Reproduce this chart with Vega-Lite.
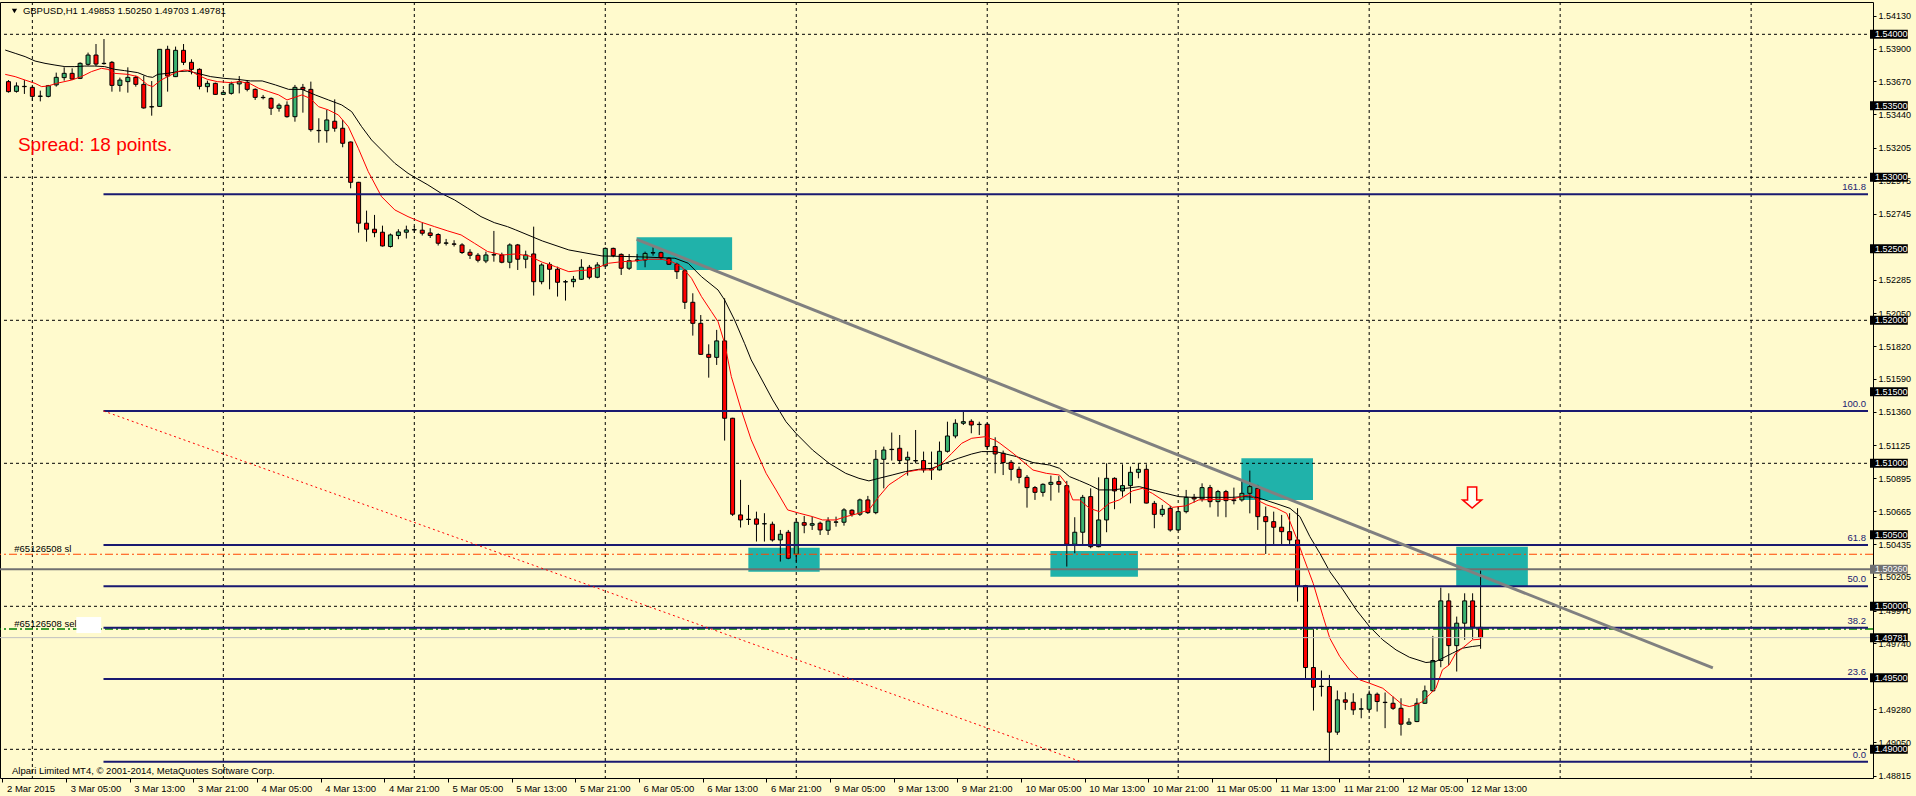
{
"$schema":"https://vega.github.io/schema/vega-lite/v6.json",
"width":1873,"height":776,
"autosize":{"type":"none"},
"padding":{"left":0,"top":2,"right":43,"bottom":18},
"background":"#FFFACD",
"config":{"view":{"stroke":"#000000","strokeWidth":1},"font":"Liberation Sans",
 "axis":{"title":null,"grid":false,"domain":false,"labelFont":"Liberation Sans","labelColor":"#000000","tickColor":"#000000","labelOverlap":false,"labelBound":false,"labelFlush":false,"zindex":0}},
"datasets":{
"candles":[
{"i":0,"o":1.53669,"h":1.5368,"l":1.53592,"c":1.53599},
{"i":1,"o":1.53601,"h":1.53664,"l":1.53592,"c":1.53639},
{"i":2,"o":1.53634,"h":1.5368,"l":1.53583,"c":1.53636},
{"i":3,"o":1.53629,"h":1.53646,"l":1.53534,"c":1.53566},
{"i":4,"o":1.53566,"h":1.53606,"l":1.53531,"c":1.53568},
{"i":5,"o":1.53566,"h":1.53646,"l":1.53559,"c":1.53641},
{"i":6,"o":1.53646,"h":1.53732,"l":1.53634,"c":1.53699},
{"i":7,"o":1.53697,"h":1.53769,"l":1.53676,"c":1.53727},
{"i":8,"o":1.53727,"h":1.53762,"l":1.5368,"c":1.53687},
{"i":9,"o":1.53692,"h":1.53804,"l":1.53687,"c":1.53797},
{"i":10,"o":1.5379,"h":1.53872,"l":1.53781,"c":1.53855},
{"i":11,"o":1.53855,"h":1.53932,"l":1.53778,"c":1.53792},
{"i":12,"o":1.53795,"h":1.53967,"l":1.53788,"c":1.53797},
{"i":13,"o":1.53804,"h":1.53813,"l":1.53599,"c":1.53643},
{"i":14,"o":1.53643,"h":1.53697,"l":1.53599,"c":1.5368},
{"i":15,"o":1.53669,"h":1.53769,"l":1.53592,"c":1.53699},
{"i":16,"o":1.53699,"h":1.53711,"l":1.53634,"c":1.5365},
{"i":17,"o":1.5365,"h":1.53711,"l":1.5348,"c":1.53485},
{"i":18,"o":1.53492,"h":1.53673,"l":1.53431,"c":1.53494},
{"i":19,"o":1.53496,"h":1.53897,"l":1.53494,"c":1.53895},
{"i":20,"o":1.53895,"h":1.5392,"l":1.53599,"c":1.53708},
{"i":21,"o":1.53704,"h":1.53914,"l":1.53701,"c":1.53888},
{"i":22,"o":1.53888,"h":1.53932,"l":1.53785,"c":1.53804},
{"i":23,"o":1.53804,"h":1.53825,"l":1.5372,"c":1.53755},
{"i":24,"o":1.53755,"h":1.53762,"l":1.53615,"c":1.53636},
{"i":25,"o":1.53634,"h":1.53676,"l":1.53594,"c":1.53657},
{"i":26,"o":1.53657,"h":1.53662,"l":1.53578,"c":1.5358},
{"i":27,"o":1.5358,"h":1.53611,"l":1.53576,"c":1.53594},
{"i":28,"o":1.53587,"h":1.53669,"l":1.53578,"c":1.53653},
{"i":29,"o":1.53653,"h":1.53708,"l":1.53587,"c":1.53669},
{"i":30,"o":1.53664,"h":1.5368,"l":1.53601,"c":1.53615},
{"i":31,"o":1.53615,"h":1.53622,"l":1.53541,"c":1.53559},
{"i":32,"o":1.53559,"h":1.53576,"l":1.53545,"c":1.53557},
{"i":33,"o":1.53552,"h":1.53559,"l":1.53436,"c":1.53483},
{"i":34,"o":1.53483,"h":1.53517,"l":1.53459,"c":1.53504},
{"i":35,"o":1.53504,"h":1.53531,"l":1.53417,"c":1.53424},
{"i":36,"o":1.53424,"h":1.53646,"l":1.53389,"c":1.53629},
{"i":37,"o":1.53629,"h":1.53653,"l":1.53452,"c":1.53615},
{"i":38,"o":1.53615,"h":1.53669,"l":1.53319,"c":1.53333},
{"i":39,"o":1.53328,"h":1.53413,"l":1.53242,"c":1.53326},
{"i":40,"o":1.53326,"h":1.53471,"l":1.53242,"c":1.53401},
{"i":41,"o":1.53392,"h":1.53545,"l":1.53319,"c":1.53343},
{"i":42,"o":1.53343,"h":1.53401,"l":1.5321,"c":1.53238},
{"i":43,"o":1.53247,"h":1.5325,"l":1.52923,"c":1.52965},
{"i":44,"o":1.52965,"h":1.52968,"l":1.52613,"c":1.52679},
{"i":45,"o":1.52679,"h":1.52767,"l":1.5255,"c":1.52637},
{"i":46,"o":1.52637,"h":1.52737,"l":1.52581,"c":1.52613},
{"i":47,"o":1.52616,"h":1.52662,"l":1.52516,"c":1.5252},
{"i":48,"o":1.52516,"h":1.52607,"l":1.52509,"c":1.52597},
{"i":49,"o":1.52593,"h":1.52637,"l":1.52567,"c":1.52618},
{"i":50,"o":1.52616,"h":1.52662,"l":1.52572,"c":1.52632},
{"i":51,"o":1.52632,"h":1.5266,"l":1.52611,"c":1.52634},
{"i":52,"o":1.5263,"h":1.52683,"l":1.52593,"c":1.52609},
{"i":53,"o":1.52611,"h":1.52644,"l":1.52576,"c":1.52593},
{"i":54,"o":1.526,"h":1.52609,"l":1.52523,"c":1.52539},
{"i":55,"o":1.52539,"h":1.52569,"l":1.52523,"c":1.52541},
{"i":56,"o":1.52534,"h":1.5256,"l":1.52516,"c":1.52532},
{"i":57,"o":1.52527,"h":1.52539,"l":1.52464,"c":1.52474},
{"i":58,"o":1.52476,"h":1.52497,"l":1.52429,"c":1.52455},
{"i":59,"o":1.52455,"h":1.5247,"l":1.52405,"c":1.5242},
{"i":60,"o":1.52415,"h":1.5248,"l":1.524,"c":1.52457},
{"i":61,"o":1.52457,"h":1.52625,"l":1.5241,"c":1.52459},
{"i":62,"o":1.52457,"h":1.52473,"l":1.52399,"c":1.52406},
{"i":63,"o":1.52406,"h":1.52538,"l":1.52364,"c":1.52527},
{"i":64,"o":1.52527,"h":1.52534,"l":1.52352,"c":1.52427},
{"i":65,"o":1.52427,"h":1.52487,"l":1.52364,"c":1.52457},
{"i":66,"o":1.52464,"h":1.52655,"l":1.52173,"c":1.5227},
{"i":67,"o":1.5227,"h":1.52399,"l":1.52252,"c":1.52387},
{"i":68,"o":1.52391,"h":1.52406,"l":1.52217,"c":1.52357},
{"i":69,"o":1.52357,"h":1.52375,"l":1.52166,"c":1.52266},
{"i":70,"o":1.52268,"h":1.52282,"l":1.52138,"c":1.5227},
{"i":71,"o":1.5227,"h":1.5231,"l":1.52231,"c":1.52287},
{"i":72,"o":1.52287,"h":1.52427,"l":1.52282,"c":1.52371},
{"i":73,"o":1.52371,"h":1.52387,"l":1.52287,"c":1.52301},
{"i":74,"o":1.52301,"h":1.52406,"l":1.52294,"c":1.52387},
{"i":75,"o":1.5238,"h":1.5251,"l":1.52375,"c":1.52503},
{"i":76,"o":1.52503,"h":1.52508,"l":1.52441,"c":1.52452},
{"i":77,"o":1.52461,"h":1.52468,"l":1.52317,"c":1.52364},
{"i":78,"o":1.52364,"h":1.52464,"l":1.52352,"c":1.52417},
{"i":79,"o":1.5242,"h":1.52464,"l":1.52406,"c":1.52422},
{"i":80,"o":1.52422,"h":1.5248,"l":1.52371,"c":1.52468},
{"i":81,"o":1.52471,"h":1.5251,"l":1.52452,"c":1.52473},
{"i":82,"o":1.52473,"h":1.5248,"l":1.52422,"c":1.52438},
{"i":83,"o":1.52434,"h":1.52441,"l":1.52387,"c":1.52392},
{"i":84,"o":1.52392,"h":1.52403,"l":1.52289,"c":1.5234},
{"i":85,"o":1.52347,"h":1.52359,"l":1.52079,"c":1.52126},
{"i":86,"o":1.52126,"h":1.52189,"l":1.51893,"c":1.51979},
{"i":87,"o":1.51979,"h":1.52037,"l":1.51758,"c":1.51762},
{"i":88,"o":1.51762,"h":1.51832,"l":1.51599,"c":1.51741},
{"i":89,"o":1.51741,"h":1.51933,"l":1.51688,"c":1.51856},
{"i":90,"o":1.51856,"h":1.52154,"l":1.51159,"c":1.51315},
{"i":91,"o":1.51315,"h":1.51318,"l":1.50632,"c":1.50644},
{"i":92,"o":1.50639,"h":1.50884,"l":1.50551,"c":1.50604},
{"i":93,"o":1.50607,"h":1.50709,"l":1.50569,"c":1.50609},
{"i":94,"o":1.50611,"h":1.50662,"l":1.50453,"c":1.50574},
{"i":95,"o":1.50576,"h":1.50651,"l":1.50453,"c":1.50578},
{"i":96,"o":1.50574,"h":1.50592,"l":1.50453,"c":1.50464},
{"i":97,"o":1.50464,"h":1.50534,"l":1.50313,"c":1.50504},
{"i":98,"o":1.50518,"h":1.50534,"l":1.50329,"c":1.50336},
{"i":99,"o":1.50364,"h":1.50616,"l":1.50313,"c":1.50588},
{"i":100,"o":1.50585,"h":1.50632,"l":1.50511,"c":1.50567},
{"i":101,"o":1.50567,"h":1.50627,"l":1.50534,"c":1.50578},
{"i":102,"o":1.50581,"h":1.50592,"l":1.50499,"c":1.50534},
{"i":103,"o":1.50532,"h":1.50623,"l":1.50499,"c":1.50597},
{"i":104,"o":1.50588,"h":1.50627,"l":1.50557,"c":1.5059},
{"i":105,"o":1.50588,"h":1.50686,"l":1.50564,"c":1.50674},
{"i":106,"o":1.50672,"h":1.50679,"l":1.50627,"c":1.50644},
{"i":107,"o":1.50644,"h":1.50753,"l":1.50632,"c":1.50744},
{"i":108,"o":1.50744,"h":1.50772,"l":1.50646,"c":1.50655},
{"i":109,"o":1.50655,"h":1.51093,"l":1.50644,"c":1.51028},
{"i":110,"o":1.51028,"h":1.51117,"l":1.50825,"c":1.51093},
{"i":111,"o":1.51096,"h":1.51215,"l":1.51019,"c":1.51098},
{"i":112,"o":1.51105,"h":1.51198,"l":1.50995,"c":1.51019},
{"i":113,"o":1.51023,"h":1.51082,"l":1.50914,"c":1.51042},
{"i":114,"o":1.51017,"h":1.51233,"l":1.51,"c":1.51019},
{"i":115,"o":1.51019,"h":1.51082,"l":1.50935,"c":1.50954},
{"i":116,"o":1.50954,"h":1.51082,"l":1.50884,"c":1.50961},
{"i":117,"o":1.50954,"h":1.51152,"l":1.50949,"c":1.51084},
{"i":118,"o":1.51084,"h":1.51291,"l":1.51075,"c":1.51191},
{"i":119,"o":1.51191,"h":1.51308,"l":1.51175,"c":1.5128},
{"i":120,"o":1.5128,"h":1.51366,"l":1.51268,"c":1.51291},
{"i":121,"o":1.51294,"h":1.51308,"l":1.5121,"c":1.51268},
{"i":122,"o":1.51271,"h":1.51291,"l":1.51198,"c":1.51273},
{"i":123,"o":1.51273,"h":1.51284,"l":1.51093,"c":1.51117},
{"i":124,"o":1.51117,"h":1.51182,"l":1.5093,"c":1.51065},
{"i":125,"o":1.5107,"h":1.51089,"l":1.50918,"c":1.51005},
{"i":126,"o":1.51007,"h":1.51023,"l":1.50879,"c":1.50958},
{"i":127,"o":1.50958,"h":1.50977,"l":1.5086,"c":1.50902},
{"i":128,"o":1.50902,"h":1.50918,"l":1.5069,"c":1.5083},
{"i":129,"o":1.5083,"h":1.50841,"l":1.50744,"c":1.50797},
{"i":130,"o":1.50797,"h":1.5086,"l":1.50767,"c":1.50853},
{"i":131,"o":1.50853,"h":1.50914,"l":1.50739,"c":1.50867},
{"i":132,"o":1.50872,"h":1.50911,"l":1.50795,"c":1.50853},
{"i":133,"o":1.50844,"h":1.50877,"l":1.50278,"c":1.50434},
{"i":134,"o":1.50434,"h":1.50623,"l":1.50371,"c":1.50518},
{"i":135,"o":1.50518,"h":1.50779,"l":1.50424,"c":1.50762},
{"i":136,"o":1.50767,"h":1.50825,"l":1.50406,"c":1.50417},
{"i":137,"o":1.50417,"h":1.50902,"l":1.50413,"c":1.50604},
{"i":138,"o":1.50604,"h":1.51,"l":1.50518,"c":1.50895},
{"i":139,"o":1.50895,"h":1.50902,"l":1.50679,"c":1.50807},
{"i":140,"o":1.50807,"h":1.50993,"l":1.50767,"c":1.50844},
{"i":141,"o":1.50844,"h":1.50977,"l":1.5072,"c":1.50937},
{"i":142,"o":1.50937,"h":1.51,"l":1.50895,"c":1.50958},
{"i":143,"o":1.50958,"h":1.50993,"l":1.5072,"c":1.50722},
{"i":144,"o":1.5072,"h":1.50737,"l":1.50546,"c":1.50643},
{"i":145,"o":1.50643,"h":1.50709,"l":1.50627,"c":1.50678},
{"i":146,"o":1.50685,"h":1.50702,"l":1.50522,"c":1.50534},
{"i":147,"o":1.50534,"h":1.50697,"l":1.50527,"c":1.50662},
{"i":148,"o":1.50662,"h":1.50814,"l":1.5065,"c":1.50762},
{"i":149,"o":1.50762,"h":1.50786,"l":1.50725,"c":1.50751},
{"i":150,"o":1.50751,"h":1.5086,"l":1.50732,"c":1.5083},
{"i":151,"o":1.5083,"h":1.50849,"l":1.50692,"c":1.50732},
{"i":152,"o":1.50732,"h":1.50814,"l":1.50627,"c":1.50802},
{"i":153,"o":1.50802,"h":1.50814,"l":1.50623,"c":1.50739},
{"i":154,"o":1.50744,"h":1.5083,"l":1.50713,"c":1.50739},
{"i":155,"o":1.50744,"h":1.50884,"l":1.50732,"c":1.5079},
{"i":156,"o":1.5079,"h":1.50949,"l":1.5065,"c":1.50837},
{"i":157,"o":1.50825,"h":1.50849,"l":1.50534,"c":1.50627},
{"i":158,"o":1.50627,"h":1.50697,"l":1.50366,"c":1.50592},
{"i":159,"o":1.50592,"h":1.50662,"l":1.50429,"c":1.50553},
{"i":160,"o":1.50553,"h":1.50639,"l":1.50429,"c":1.50522},
{"i":161,"o":1.50522,"h":1.50651,"l":1.50422,"c":1.50464},
{"i":162,"o":1.50464,"h":1.50686,"l":1.50033,"c":1.50143},
{"i":163,"o":1.50145,"h":1.5015,"l":1.49497,"c":1.49572},
{"i":164,"o":1.49572,"h":1.4984,"l":1.49271,"c":1.49434},
{"i":165,"o":1.49439,"h":1.49551,"l":1.49369,"c":1.49441},
{"i":166,"o":1.49439,"h":1.4952,"l":1.48913,"c":1.4912},
{"i":167,"o":1.4912,"h":1.49411,"l":1.49101,"c":1.49346},
{"i":168,"o":1.49346,"h":1.49399,"l":1.49276,"c":1.49329},
{"i":169,"o":1.49329,"h":1.49392,"l":1.49241,"c":1.49276},
{"i":170,"o":1.49281,"h":1.49357,"l":1.49217,"c":1.49283},
{"i":171,"o":1.4928,"h":1.49411,"l":1.49264,"c":1.49385},
{"i":172,"o":1.49385,"h":1.49397,"l":1.49264,"c":1.49334},
{"i":173,"o":1.49329,"h":1.49397,"l":1.49148,"c":1.49327},
{"i":174,"o":1.49322,"h":1.49369,"l":1.49276,"c":1.49287},
{"i":175,"o":1.49287,"h":1.49357,"l":1.49096,"c":1.49176},
{"i":176,"o":1.49176,"h":1.49218,"l":1.49171,"c":1.4919},
{"i":177,"o":1.49194,"h":1.49357,"l":1.4919,"c":1.49322},
{"i":178,"o":1.49322,"h":1.49446,"l":1.49318,"c":1.49409},
{"i":179,"o":1.49409,"h":1.49793,"l":1.49404,"c":1.49621},
{"i":180,"o":1.49621,"h":1.50131,"l":1.49574,"c":1.50038},
{"i":181,"o":1.50038,"h":1.50091,"l":1.4959,"c":1.49725},
{"i":182,"o":1.49725,"h":1.49928,"l":1.49544,"c":1.49882},
{"i":183,"o":1.49882,"h":1.50091,"l":1.49765,"c":1.50038},
{"i":184,"o":1.50038,"h":1.50091,"l":1.4977,"c":1.49854},
{"i":185,"o":1.49853,"h":1.5025,"l":1.49703,"c":1.49781}
],
"maFast":[
{"i":-0.41,"p":1.5372},{"i":0.84,"p":1.53704},{"i":2.09,"p":1.5368},{"i":3.34,"p":1.53657},{"i":4.17,"p":1.53634},{"i":5.0,"p":1.53639},{"i":6.05,"p":1.53657},{"i":7.92,"p":1.5368},{"i":9.17,"p":1.53704},{"i":10.42,"p":1.53739},{"i":11.67,"p":1.53762},{"i":12.5,"p":1.53755},{"i":13.34,"p":1.53727},{"i":15.0,"p":1.5372},{"i":16.25,"p":1.53704},{"i":17.5,"p":1.53646},{"i":18.13,"p":1.53634},{"i":19.17,"p":1.5368},{"i":20.0,"p":1.53704},{"i":21.25,"p":1.53739},{"i":22.09,"p":1.5375},{"i":22.92,"p":1.53746},{"i":23.75,"p":1.53715},{"i":25.0,"p":1.53685},{"i":26.25,"p":1.53669},{"i":27.92,"p":1.53662},{"i":29.17,"p":1.53669},{"i":30.42,"p":1.53653},
{"i":31.46,"p":1.53622},{"i":32.71,"p":1.53599},{"i":33.96,"p":1.53576},{"i":35.0,"p":1.53541},{"i":36.88,"p":1.53576},{"i":37.92,"p":1.53552},{"i":38.96,"p":1.53494},{"i":40.21,"p":1.53471},{"i":41.46,"p":1.53436},{"i":42.71,"p":1.53354},{"i":43.96,"p":1.53203},{"i":45.21,"p":1.5304},{"i":46.88,"p":1.52865},{"i":48.55,"p":1.52772},{"i":50.21,"p":1.52725},{"i":51.88,"p":1.52686},{"i":53.55,"p":1.52655},{"i":55.21,"p":1.52625},{"i":56.88,"p":1.52597},{"i":58.55,"p":1.52539},{"i":60.21,"p":1.52481},{"i":62.09,"p":1.52457},
{"i":63.75,"p":1.52464},{"i":65.42,"p":1.5245},{"i":67.09,"p":1.52406},{"i":68.75,"p":1.52375},{"i":70.42,"p":1.5234},{"i":71.67,"p":1.52347},{"i":72.92,"p":1.52352},{"i":74.17,"p":1.52371},{"i":75.42,"p":1.52399},{"i":77.09,"p":1.5241},{"i":78.75,"p":1.52415},{"i":80.42,"p":1.52427},{"i":82.09,"p":1.52427},{"i":83.34,"p":1.5241},{"i":84.59,"p":1.52375},{"i":85.84,"p":1.52294},{"i":87.09,"p":1.52166},{"i":88.34,"p":1.52061},{"i":89.17,"p":1.51991},{"i":90.0,"p":1.51839},{"i":90.84,"p":1.51606},{"i":92.09,"p":1.51373},{"i":93.34,"p":1.51164},
{"i":95.21,"p":1.5093},{"i":96.46,"p":1.50814},{"i":97.92,"p":1.50674},{"i":99.38,"p":1.50651},{"i":101.05,"p":1.50627},{"i":102.3,"p":1.50604},{"i":103.96,"p":1.50604},{"i":105.21,"p":1.50627},{"i":106.46,"p":1.50644},{"i":108.13,"p":1.50674},{"i":109.38,"p":1.50767},{"i":110.63,"p":1.50849},{"i":111.88,"p":1.50895},{"i":113.13,"p":1.50942},{"i":114.38,"p":1.50954},{"i":116.05,"p":1.50954},{"i":117.3,"p":1.51},{"i":118.55,"p":1.5107},{"i":119.8,"p":1.5114},{"i":121.05,"p":1.51175},{"i":122.71,"p":1.51186},{"i":123.96,"p":1.51163},
{"i":124.59,"p":1.5114},{"i":126.25,"p":1.5107},{"i":127.5,"p":1.51012},{"i":128.75,"p":1.50953},{"i":130.42,"p":1.5093},{"i":132.09,"p":1.50918},{"i":132.92,"p":1.5086},{"i":133.75,"p":1.50744},{"i":134.59,"p":1.50744},{"i":135.84,"p":1.50686},{"i":137.09,"p":1.50662},{"i":138.34,"p":1.5072},{"i":139.59,"p":1.50744},{"i":141.25,"p":1.50807},{"i":142.5,"p":1.50825},{"i":143.75,"p":1.5079},{"i":145.0,"p":1.50744},{"i":146.25,"p":1.50692},{"i":147.92,"p":1.50702},{"i":149.59,"p":1.50744},{"i":151.67,"p":1.50748},{"i":153.75,"p":1.50748},
{"i":155.21,"p":1.50772},{"i":156.05,"p":1.50779},{"i":156.88,"p":1.50744},{"i":158.13,"p":1.50709},{"i":159.38,"p":1.50685},{"i":160.63,"p":1.5065},{"i":161.88,"p":1.50476},{"i":162.71,"p":1.50348},{"i":163.96,"p":1.50161},{"i":165.21,"p":1.49928},{"i":166.05,"p":1.49777},{"i":167.3,"p":1.49649},{"i":168.55,"p":1.49556},{"i":169.8,"p":1.49486},{"i":171.05,"p":1.49462},{"i":172.71,"p":1.49427},{"i":173.96,"p":1.49369},{"i":175.21,"p":1.49311},{"i":176.05,"p":1.49299},{"i":176.88,"p":1.49311},{"i":177.71,"p":1.49334},{"i":178.55,"p":1.49381},{"i":179.38,"p":1.49427},{"i":180.21,"p":1.49556},{"i":181.05,"p":1.4959},{"i":181.88,"p":1.49672},{"i":182.71,"p":1.49707},{"i":183.96,"p":1.49765},{"i":185.0,"p":1.4977}
],
"maSlow":[
{"i":-0.41,"p":1.5389},{"i":0.84,"p":1.53867},{"i":2.09,"p":1.53844},{"i":3.34,"p":1.53813},{"i":4.59,"p":1.53797},{"i":5.84,"p":1.53785},{"i":7.09,"p":1.53774},{"i":8.34,"p":1.53774},{"i":9.59,"p":1.53778},{"i":10.84,"p":1.53778},{"i":12.09,"p":1.53774},{"i":13.34,"p":1.53755},{"i":14.59,"p":1.53746},{"i":16.25,"p":1.53732},{"i":17.5,"p":1.53704},{"i":18.13,"p":1.53699},{"i":18.75,"p":1.5372},{"i":20.0,"p":1.53727},{"i":21.25,"p":1.53739},{"i":22.5,"p":1.53743},{"i":23.75,"p":1.53727},{"i":25.42,"p":1.53704},{"i":27.09,"p":1.53692},{"i":28.75,"p":1.53685},{"i":30.42,"p":1.53674},
{"i":31.88,"p":1.53674},{"i":33.55,"p":1.53646},{"i":35.21,"p":1.53615},{"i":36.88,"p":1.53615},{"i":38.55,"p":1.53576},{"i":40.21,"p":1.53541},{"i":41.88,"p":1.53506},{"i":43.13,"p":1.53459},{"i":44.38,"p":1.53354},{"i":45.63,"p":1.53261},{"i":46.88,"p":1.53191},{"i":48.55,"p":1.53098},{"i":50.21,"p":1.53028},{"i":51.05,"p":1.53},{"i":52.71,"p":1.52947},{"i":54.38,"p":1.52888},{"i":56.05,"p":1.52842},{"i":57.71,"p":1.52784},{"i":59.38,"p":1.52725},{"i":61.05,"p":1.52683},{"i":62.71,"p":1.52655},
{"i":63.75,"p":1.52632},{"i":67.09,"p":1.52555},{"i":70.42,"p":1.52492},{"i":74.59,"p":1.5245},{"i":78.75,"p":1.52445},{"i":83.75,"p":1.52434},{"i":85.42,"p":1.52399},{"i":87.09,"p":1.52305},{"i":89.17,"p":1.52212},{"i":90.0,"p":1.52142},{"i":91.25,"p":1.52002},{"i":92.5,"p":1.51839},{"i":93.34,"p":1.51723},
{"i":96.05,"p":1.51443},{"i":97.71,"p":1.51291},{"i":98.96,"p":1.5121},{"i":101.05,"p":1.51093},{"i":103.13,"p":1.51},{"i":105.21,"p":1.5093},{"i":106.88,"p":1.50895},{"i":108.13,"p":1.50877},{"i":109.38,"p":1.50895},{"i":111.05,"p":1.50918},{"i":112.71,"p":1.50942},{"i":114.38,"p":1.50958},{"i":116.05,"p":1.50965},{"i":117.71,"p":1.51},{"i":119.38,"p":1.51035},{"i":121.05,"p":1.51065},{"i":122.3,"p":1.51082},{"i":123.96,"p":1.51082},
{"i":124.59,"p":1.51075},{"i":126.67,"p":1.51047},{"i":128.75,"p":1.51005},{"i":130.84,"p":1.50988},{"i":132.09,"p":1.50965},{"i":133.34,"p":1.50907},{"i":134.59,"p":1.50879},{"i":135.84,"p":1.50849},{"i":137.09,"p":1.50814},{"i":138.75,"p":1.50814},{"i":140.42,"p":1.50825},{"i":142.09,"p":1.50837},{"i":143.75,"p":1.50814},{"i":145.42,"p":1.5079},{"i":147.09,"p":1.50767},{"i":148.75,"p":1.50762},{"i":150.42,"p":1.50762},{"i":152.09,"p":1.50762},{"i":153.75,"p":1.50762},
{"i":155.21,"p":1.50767},{"i":156.88,"p":1.50762},{"i":158.55,"p":1.50732},{"i":159.8,"p":1.50709},{"i":161.05,"p":1.50685},{"i":162.3,"p":1.50627},{"i":163.55,"p":1.50487},{"i":164.8,"p":1.50371},{"i":166.05,"p":1.50243},{"i":167.71,"p":1.50115},{"i":169.38,"p":1.49975},{"i":171.05,"p":1.49858},{"i":172.71,"p":1.49765},{"i":174.38,"p":1.49695},{"i":176.05,"p":1.49644},{"i":178.13,"p":1.49607},{"i":179.38,"p":1.49614},{"i":180.21,"p":1.49637},{"i":181.46,"p":1.49672},{"i":182.71,"p":1.49707},{"i":183.96,"p":1.49719},{"i":185.0,"p":1.49726}
],
"zones":[
{"i":78.94,"i2":90.94,"p":1.5258,"p2":1.52352},
{"i":154.94,"i2":163.94,"p":1.51035,"p2":1.50743},
{"i":92.98,"i2":101.94,"p":1.5041,"p2":1.50242},
{"i":130.94,"i2":141.94,"p":1.50387,"p2":1.50207},
{"i":181.94,"i2":190.94,"p":1.50417,"p2":1.50137}
],
"fib":[
{"level":"0.0","p":1.48913,"i":11.94,"i2":233.6875},{"level":"23.6","p":1.49492,"i":11.94,"i2":233.6875},{"level":"38.2","p":1.4985,"i":11.94,"i2":233.6875},{"level":"50.0","p":1.5014,"i":11.94,"i2":233.6875},{"level":"61.8","p":1.50429,"i":11.94,"i2":233.6875},{"level":"100.0","p":1.51366,"i":11.94,"i2":233.6875},{"level":"161.8","p":1.52882,"i":11.94,"i2":233.6875}
],
"boxes":[
{"p":1.54,"i":233.94,"i2":238.69},{"p":1.535,"i":233.94,"i2":238.69},{"p":1.53,"i":233.94,"i2":238.69},{"p":1.525,"i":233.94,"i2":238.69},{"p":1.52,"i":233.94,"i2":238.69},{"p":1.515,"i":233.94,"i2":238.69},{"p":1.51,"i":233.94,"i2":238.69},{"p":1.505,"i":233.94,"i2":238.69},{"p":1.5,"i":233.94,"i2":238.69},{"p":1.49781,"i":233.94,"i2":238.69},{"p":1.495,"i":233.94,"i2":238.69},{"p":1.49,"i":233.94,"i2":238.69}
],
"greybox":[{"p":1.5026,"i":233.94,"i2":238.69}]
},
"encoding":{
 "x":{"field":"i","type":"quantitative","scale":{"domain":[-0.4375,233.6875],"nice":false,"zero":false},
  "axis":{"orient":"bottom","ticks":true,"tickSize":4,"tickWidth":1,"tickOffset":-6,"labelOffset":4,"labelAlign":"left","labelBaseline":"top","labelPadding":1,"labelFontSize":9.5,
  "values":[0,8,16,24,32,40,48,56,64,72,80,88,96,104,112,120,128,136,144,152,160,168,176,184],
  "labelExpr":"['2 Mar 2015','3 Mar 05:00','3 Mar 13:00','3 Mar 21:00','4 Mar 05:00','4 Mar 13:00','4 Mar 21:00','5 Mar 05:00','5 Mar 13:00','5 Mar 21:00','6 Mar 05:00','6 Mar 13:00','6 Mar 21:00','9 Mar 05:00','9 Mar 13:00','9 Mar 21:00','10 Mar 05:00','10 Mar 13:00','10 Mar 21:00','11 Mar 05:00','11 Mar 13:00','11 Mar 21:00','12 Mar 05:00','12 Mar 13:00'][round(datum.value/8)]"}},
 "y":{"field":"p","type":"quantitative","scale":{"domain":[1.487994,1.542259],"nice":false,"zero":false},
  "axis":{"orient":"right","ticks":true,"tickSize":3,"labelPadding":2,"labelFontSize":9,"format":".5f",
  "values":[1.5413,1.539,1.5367,1.5344,1.53205,1.52975,1.52745,1.52285,1.5205,1.5182,1.5159,1.5136,1.51125,1.50895,1.50665,1.50435,1.50205,1.4997,1.4974,1.4928,1.4905,1.48815]}}
},
"layer":[
{"data":{"name":"zones"},"mark":{"type":"rect","color":"#20B2AA","opacity":1},
 "encoding":{"x2":{"field":"i2"},"y2":{"field":"p2"}}},
{"data":{"values":[{"i":3},{"i":27},{"i":51},{"i":75},{"i":99},{"i":123},{"i":147},{"i":171},{"i":195},{"i":219}]},
 "mark":{"type":"rule","color":"#000000","strokeWidth":1,"strokeDash":[3,3]},
 "encoding":{"y":null}},
{"data":{"values":[{"p":1.54},{"p":1.53},{"p":1.52},{"p":1.51},{"p":1.5},{"p":1.49}]},
 "mark":{"type":"rule","color":"#000000","strokeWidth":1,"strokeDash":[3,3]},
 "encoding":{"x":null}},
{"data":{"name":"candles"},"mark":{"type":"rule","color":"#000000","strokeWidth":1},
 "encoding":{"y":{"field":"l","type":"quantitative"},"y2":{"field":"h"}}},
{"data":{"name":"candles"},"mark":{"type":"bar","orient":"vertical","size":4,"stroke":"#000000","strokeWidth":1},
 "encoding":{"y":{"field":"o","type":"quantitative"},"y2":{"field":"c"},
 "fill":{"condition":{"test":"datum.c >= datum.o","value":"#3CB371"},"value":"#FF0000"}}},
{"data":{"name":"maSlow"},"mark":{"type":"line","color":"#000000","strokeWidth":1}},
{"data":{"name":"maFast"},"mark":{"type":"line","color":"#FF0000","strokeWidth":1}},
{"data":{"values":[{"p":1.50364}]},"mark":{"type":"rule","color":"#FF4500","strokeWidth":1,"strokeDash":[8,3,2,3]},"encoding":{"x":null}},
{"data":{"values":[{"p":1.5026}]},"mark":{"type":"rule","color":"#707070","strokeWidth":2},"encoding":{"x":null}},
{"data":{"values":[{"p":1.49841}]},"mark":{"type":"rule","color":"#008000","strokeWidth":1.5,"strokeDash":[8,3,2,3]},"encoding":{"x":null}},
{"data":{"values":[{"p":1.49781}]},"mark":{"type":"rule","color":"#C0C0C0","strokeWidth":1},"encoding":{"x":null}},
{"data":{"name":"fib"},"mark":{"type":"rule","color":"#191970","strokeWidth":2},
 "encoding":{"x2":{"field":"i2"}}},
{"data":{"name":"fib"},"mark":{"type":"text","color":"#191970","font":"Liberation Sans","fontSize":9.5,"align":"right","baseline":"bottom","dy":-2,"dx":-2},
 "encoding":{"x":{"field":"i2","type":"quantitative"},"text":{"field":"level"}}},
{"data":{"values":[{"i":11.94,"p":1.51366,"i2":134.81,"p2":1.48913}]},"mark":{"type":"rule","color":"#FF0000","strokeWidth":1,"strokeDash":[2,3]},
 "encoding":{"x2":{"field":"i2"},"y2":{"field":"p2"}}},
{"data":{"values":[{"i":78.94,"p":1.52566,"i2":214.19,"p2":1.49569}]},"mark":{"type":"rule","color":"#808080","strokeWidth":3},
 "encoding":{"x2":{"field":"i2"},"y2":{"field":"p2"}}},
{"data":{"values":[{"i":0.73,"p":1.50382,"t":"#65126508 sl"},{"i":0.73,"p":1.49853,"t":"#65126508 sel"}]},
 "mark":{"type":"text","color":"#000000","font":"Liberation Sans","fontSize":9.5,"align":"left","baseline":"alphabetic"},
 "encoding":{"text":{"field":"t"}}},
{"data":{"values":[{"i":8.53,"i2":11.65,"p":1.49925,"p2":1.49813}]},"mark":{"type":"rect","color":"#FFFFFF","opacity":1},
 "encoding":{"x2":{"field":"i2"},"y2":{"field":"p2"}}},
{"data":{"values":[{"i":1.19,"p":1.53186,"t":"Spread: 18 points."}]},
 "mark":{"type":"text","color":"#FF0000","font":"Liberation Sans","fontSize":19,"align":"left","baseline":"alphabetic"},
 "encoding":{"text":{"field":"t"}}},
{"data":{"values":[{"i":1.81,"p":1.54142,"t":"GBPUSD,H1  1.49853 1.50250 1.49703 1.49781"},{"i":0.44,"p":1.48824,"t":"Alpari Limited MT4, © 2001-2014, MetaQuotes Software Corp."}]},
 "mark":{"type":"text","color":"#000000","font":"Liberation Sans","fontSize":9.5,"align":"left","baseline":"alphabetic"},
 "encoding":{"text":{"field":"t"}}},
{"data":{"values":[{"i":0.75,"p":1.54163}]},"mark":{"type":"point","shape":"triangle-down","filled":true,"color":"#000000","size":28,"opacity":1}},
{"data":{"values":[{"i":183.94,"p":1.50761}]},"mark":{"type":"point","shape":"M-0.43,-1L0.43,-1L0.43,0.23L0.9,0.23L0,1L-0.9,0.23L-0.43,0.23Z","filled":true,"fill":"#FFFFF0","stroke":"#FF0000","strokeWidth":1.5,"size":450,"opacity":1}},
{"data":{"name":"boxes"},"mark":{"type":"rect","color":"#000000","opacity":1,"yOffset":-4.5,"y2Offset":4.5},
 "encoding":{"x2":{"field":"i2"},"y2":{"field":"p"}}},
{"data":{"name":"greybox"},"mark":{"type":"rect","color":"#707070","opacity":1,"yOffset":-4.5,"y2Offset":4.5},
 "encoding":{"x2":{"field":"i2"},"y2":{"field":"p"}}},
{"data":{"name":"boxes"},"mark":{"type":"text","color":"#FFFFFF","font":"Liberation Sans","fontSize":9,"align":"left","baseline":"middle","dx":5},
 "encoding":{"text":{"field":"p","type":"quantitative","format":".5f"}}},
{"data":{"name":"greybox"},"mark":{"type":"text","color":"#FFFFFF","font":"Liberation Sans","fontSize":9,"align":"left","baseline":"middle","dx":5},
 "encoding":{"text":{"field":"p","type":"quantitative","format":".5f"}}}
]
}
